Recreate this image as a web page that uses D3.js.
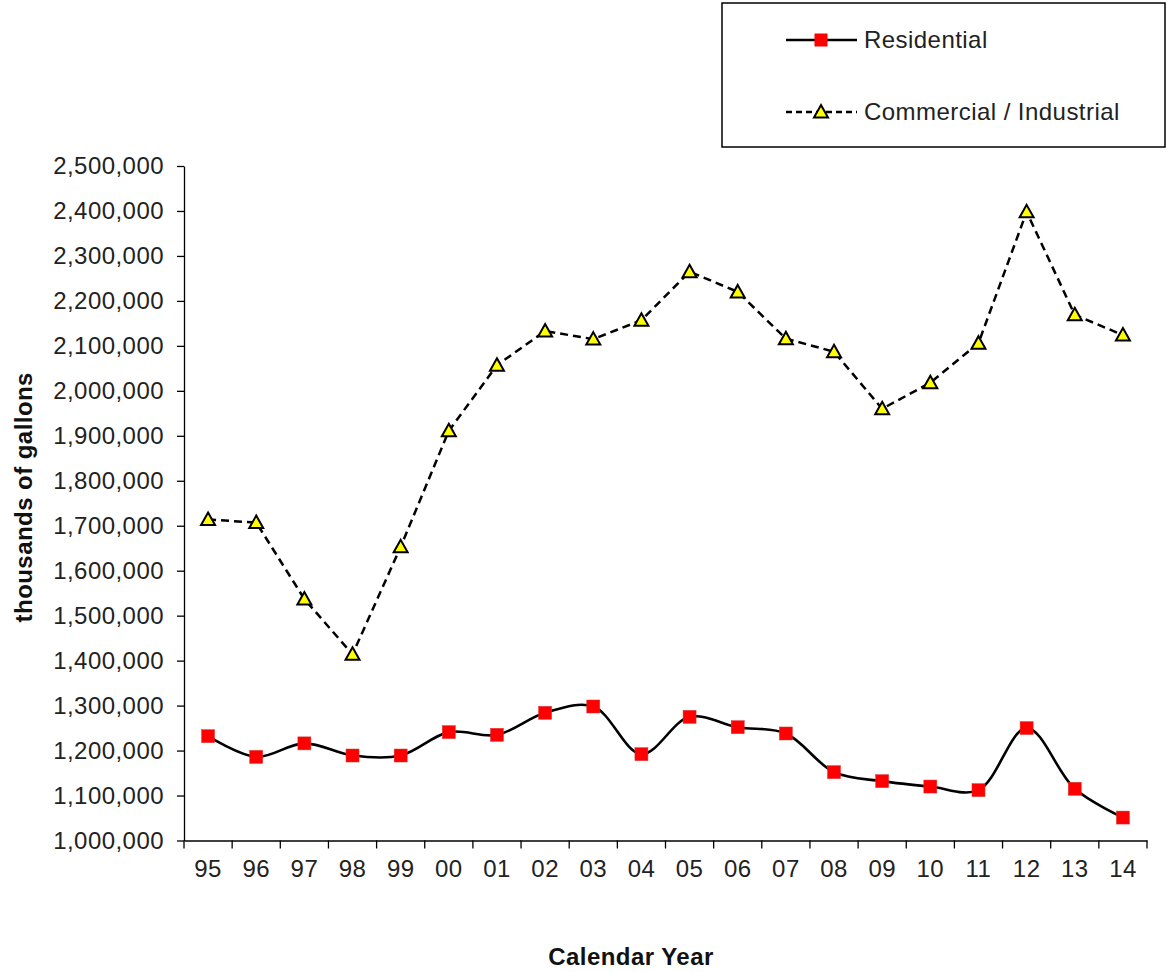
<!DOCTYPE html>
<html><head><meta charset="utf-8">
<script src="https://cdn.jsdelivr.net/npm/d3@7"></script>
<style>body{margin:0;background:#fff;} svg{display:block;font-family:"Liberation Sans",Arial,sans-serif;}</style>
</head><body>
<svg id="c" width="1167" height="972"></svg>
<script>
const years = ["95","96","97","98","99","00","01","02","03","04","05","06","07","08","09","10","11","12","13","14"];
const residential = [1232000,1186000,1216000,1189000,1189000,1241000,1235000,1284000,1298000,1192000,1275000,1252000,1238000,1152000,1132000,1120000,1112000,1250000,1115000,1051000];
const commercial = [1714000,1707000,1537000,1414000,1653000,1911000,2057000,2133000,2115000,2157000,2265000,2220000,2116000,2087000,1960000,2018000,2106000,2398000,2169000,2124000];
const yTicks = [1000000,1100000,1200000,1300000,1400000,1500000,1600000,1700000,1800000,1900000,2000000,2100000,2200000,2300000,2400000,2500000];
const seriesNames = ["Residential","Commercial / Industrial"];

const svg = d3.select("#c");
const L=184, R=1147, T=166, B=840.5;
const x = d3.scaleBand().domain(years).range([L,R]).padding(0);
const y = d3.scaleLinear().domain([1000000,2500000]).range([B,T]);
const fmt = d3.format(",");
const cx = d => x(d)+x.bandwidth()/2;
const FS = 24, LS = "0.45px";

// Y axis
const ya = svg.append("g").attr("transform",`translate(${L},0)`)
  .call(d3.axisLeft(y).tickValues(yTicks).tickFormat(fmt).tickSize(7).tickPadding(13).tickSizeOuter(0));
ya.select(".domain").attr("stroke","#000").attr("stroke-width",1.3);
ya.selectAll(".tick line").attr("stroke","#000").attr("stroke-width",1.3);
ya.selectAll("text").attr("font-size",FS).attr("letter-spacing",LS).attr("fill","#222").attr("font-family","'Liberation Sans',Arial,sans-serif");

// X axis
const xa = svg.append("g").attr("transform",`translate(0,${B})`)
  .call(d3.axisBottom(x).tickSize(0).tickPadding(19).tickSizeOuter(0));
xa.select(".domain").attr("stroke","#000").attr("stroke-width",1.3);
xa.selectAll("text").attr("font-size",FS).attr("letter-spacing",LS).attr("fill","#222").attr("font-family","'Liberation Sans',Arial,sans-serif");
const bounds = years.map(d=>x(d)).concat([x(years[years.length-1])+x.bandwidth()]);
svg.append("g").selectAll("line").data(bounds).join("line")
  .attr("x1",d=>d).attr("x2",d=>d).attr("y1",B).attr("y2",B+8)
  .attr("stroke","#000").attr("stroke-width",1.3);

// Lines
const resLine = d3.line().x((d,i)=>cx(years[i])).y(d=>y(d)).curve(d3.curveCatmullRom.alpha(0.5));
const comLine = d3.line().x((d,i)=>cx(years[i])).y(d=>y(d));
svg.append("path").attr("d",comLine(commercial)).attr("fill","none").attr("stroke","#000").attr("stroke-width",2.5).attr("stroke-dasharray","8,5");
svg.append("path").attr("d",resLine(residential)).attr("fill","none").attr("stroke","#000").attr("stroke-width",2.6);

function triangle(g, px, py){
  g.append("path").attr("d","M0,-7L7,5.5L-7,5.5Z").attr("transform",`translate(${px},${py})`)
    .attr("fill","#ffff00").attr("stroke","#000").attr("stroke-width",2);
}
const sq = 13;
svg.append("g").selectAll("rect").data(residential).join("rect")
  .attr("x",(d,i)=>cx(years[i])-sq/2).attr("y",d=>y(d)-sq/2).attr("width",sq).attr("height",sq)
  .attr("fill","#ff0000").attr("stroke","#d33").attr("stroke-width",0.5);
const tg = svg.append("g");
commercial.forEach((d,i)=>triangle(tg, cx(years[i]), y(d)));

// Axis titles
svg.append("text").attr("transform",`translate(32,${(T+B)/2-6}) rotate(-90)`).attr("text-anchor","middle")
  .attr("font-size",FS).attr("letter-spacing",LS).attr("font-weight","bold").attr("fill","#111").text("thousands of gallons");
svg.append("text").attr("x",631).attr("y",965).attr("text-anchor","middle")
  .attr("font-size",FS).attr("letter-spacing",LS).attr("font-weight","bold").attr("fill","#111").text("Calendar Year");

// Legend
const lg = svg.append("g");
lg.append("rect").attr("x",722).attr("y",3).attr("width",443).attr("height",144).attr("fill","#fff").attr("stroke","#000").attr("stroke-width",1.5);
lg.append("line").attr("x1",786).attr("x2",857).attr("y1",40).attr("y2",40).attr("stroke","#000").attr("stroke-width",2.6);
lg.append("rect").attr("x",821-sq/2).attr("y",40-sq/2).attr("width",sq).attr("height",sq).attr("fill","#ff0000");
lg.append("text").attr("x",864).attr("y",48).attr("font-size",FS).attr("letter-spacing",LS).attr("fill","#222").text(seriesNames[0]);
lg.append("line").attr("x1",786).attr("x2",857).attr("y1",112).attr("y2",112).attr("stroke","#000").attr("stroke-width",2.3).attr("stroke-dasharray","6,4");
triangle(lg, 821, 112);
lg.append("text").attr("x",864).attr("y",120).attr("font-size",FS).attr("letter-spacing",LS).attr("fill","#222").text(seriesNames[1]);
</script>
</body></html>
